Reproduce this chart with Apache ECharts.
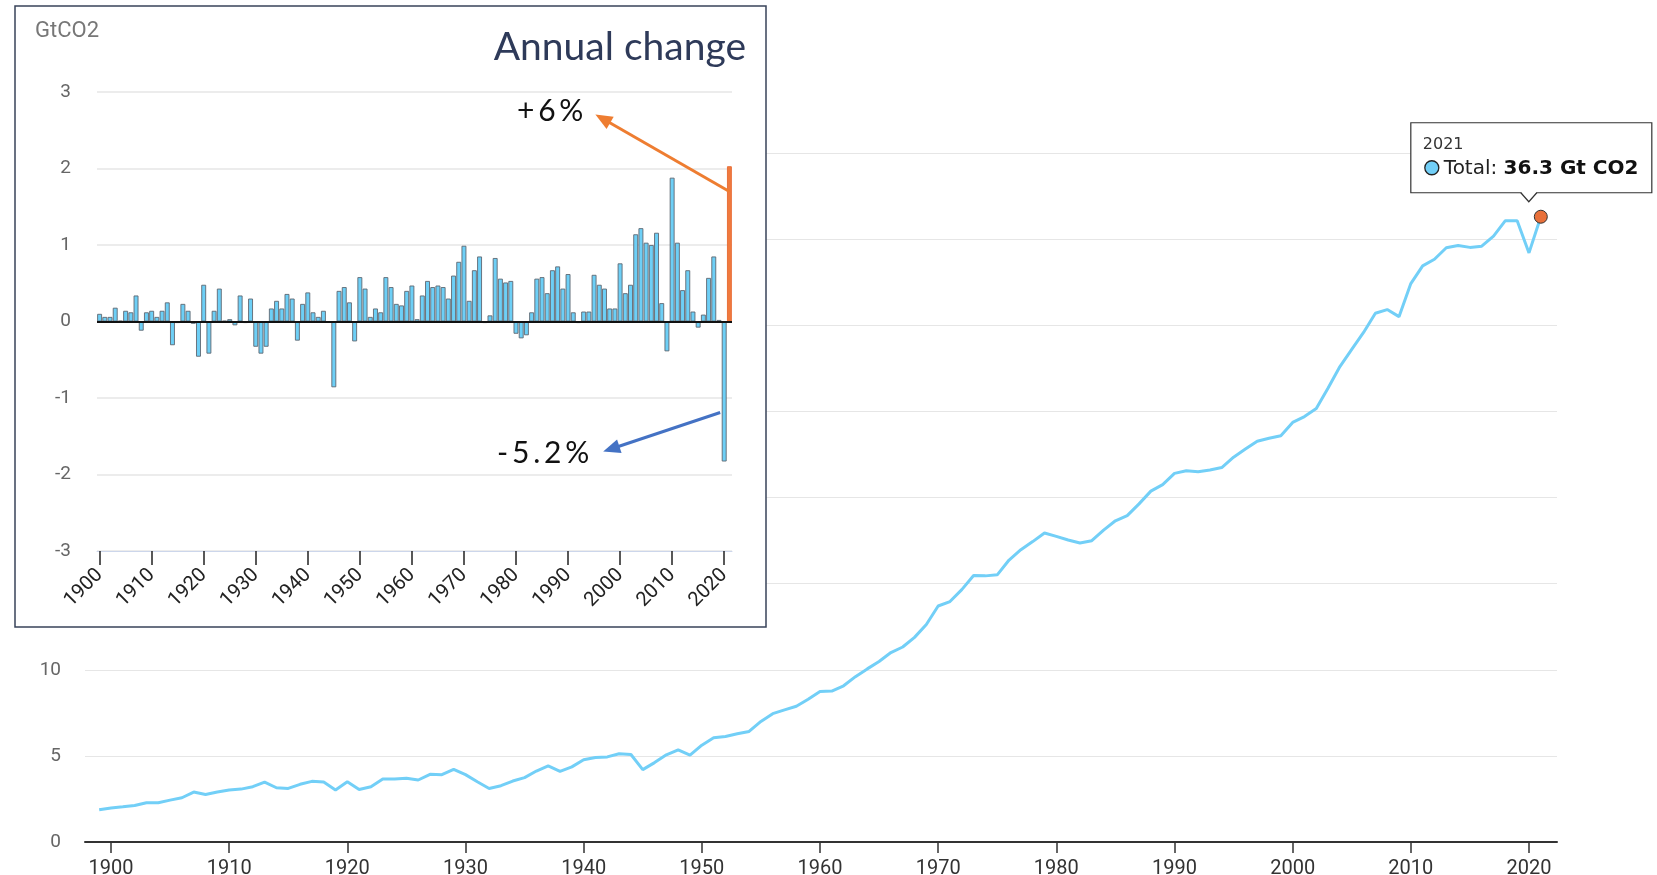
<!DOCTYPE html>
<html><head><meta charset="utf-8">
<script src="https://cdn.jsdelivr.net/npm/echarts@6/dist/echarts.min.js"></script>
<style>html,body{margin:0;padding:0;background:#fff}#c{width:1657px;height:875px}</style>
</head><body><div id="c"></div>
<script>
// ---- data ----
const totalYears = [];
for (let y = 1899; y <= 2021; y++) totalYears.push(y);
const totalEmissions = [
  1.87,1.98,2.04,2.12,2.28,2.28,2.43,2.57,2.9,2.76,2.9,
  3.02,3.07,3.21,3.48,3.15,3.11,3.35,3.52,3.48,3.02,
  3.5,3.05,3.21,3.66,3.66,3.7,3.6,3.93,3.91,4.22,
  3.91,3.5,3.11,3.27,3.54,3.74,4.12,4.42,4.1,4.36,
  4.77,4.9,4.94,5.12,5.08,4.2,4.61,5.06,5.35,5.04,
  5.62,6.05,6.13,6.28,6.42,7.0,7.45,7.67,7.88,8.29,
  8.74,8.76,9.07,9.6,10.05,10.48,11.0,11.32,11.88,12.63,
  13.7,13.96,14.65,15.47,15.45,15.51,16.37,16.97,17.44,17.94,
  17.74,17.53,17.36,17.49,18.11,18.65,18.95,19.63,20.37,20.75,
  21.4,21.55,21.5,21.6,21.74,22.34,22.81,23.27,23.44,23.59,
  24.36,24.7,25.16,26.36,27.6,28.6,29.58,30.7,30.91,30.5,
  32.42,33.45,33.83,34.5,34.63,34.52,34.59,35.17,36.07,36.07,
  34.2,36.3
];
const changeYears = [];
for (let y = 1900; y <= 2021; y++) changeYears.push(String(y));
const annualChange = [
  0.10,0.06,0.06,0.18,0.01,0.14,0.12,0.34,-0.12,0.12,
  0.14,0.06,0.14,0.25,-0.31,-0.02,0.23,0.14,-0.03,-0.46,
  0.48,-0.42,0.14,0.43,0.01,0.03,-0.05,0.34,-0.02,0.30,
  -0.33,-0.42,-0.33,0.17,0.27,0.17,0.36,0.30,-0.25,0.23,
  0.38,0.12,0.06,0.14,-0.01,-0.86,0.40,0.45,0.25,-0.26,
  0.58,0.43,0.06,0.17,0.12,0.58,0.45,0.23,0.21,0.40,
  0.47,0.03,0.34,0.53,0.45,0.47,0.45,0.30,0.60,0.78,
  0.99,0.27,0.67,0.85,-0.02,0.08,0.83,0.56,0.51,0.53,
  -0.16,-0.22,-0.18,0.12,0.56,0.58,0.37,0.67,0.72,0.43,
  0.62,0.12,-0.02,0.13,0.13,0.61,0.48,0.43,0.17,0.17,
  0.76,0.37,0.48,1.14,1.22,1.03,1.00,1.16,0.24,-0.39,
  1.88,1.03,0.41,0.67,0.13,-0.08,0.09,0.57,0.85,0.02,
  -1.83,2.03
];
const mainTickYears = [1900,1910,1920,1930,1940,1950,1960,1970,1980,1990,2000,2010,2020];
const highlightYear = '2021';
const upLabel = '+\u20096\u2009%';
const downLabel = '-\u20095\u2009.\u20092\u2009%';
const unitLabel = 'GtCO2';
const insetTitle = 'Annual change';

// ---- chart ----
const chart = echarts.init(document.getElementById('c'), null, {renderer: 'canvas'});
const LINE = '#72cff7';

const option = {
  animation: false,
  backgroundColor: '#fff',
  grid: [
    {left: 85, top: 153, width: 1472, height: 689, containLabel: false, outerBoundsMode: 'none'},
    {left: 97, top: 92, width: 635, height: 459, z: 3, containLabel: false, outerBoundsMode: 'none'}
  ],
  xAxis: [
    {
      type: 'value', gridIndex: 0, min: 1897.8, max: 2022.37,
      splitLine: {show: false},
      axisLine: {show: true, onZero: false, lineStyle: {color: '#333', width: 2}},
      axisTick: {show: true, length: 11, lineStyle: {color: '#333', width: 1.5}, customValues: mainTickYears},
      axisLabel: {show: true, color: '#333', fontSize: 20, fontFamily: 'Roboto', margin: 17, customValues: mainTickYears,
                  formatter: v => String(v)}
    },
    {
      type: 'category', gridIndex: 1, data: changeYears, boundaryGap: true, z: 3,
      axisLine: {show: true, onZero: false, lineStyle: {color: '#ccd6eb', width: 1}},
      axisTick: {show: true, alignWithLabel: true, length: 14, interval: (i, v) => Number(v) % 10 === 0,
                 lineStyle: {color: '#222', width: 1.5}},
      axisLabel: {show: true, interval: (i, v) => Number(v) % 10 === 0, rotate: 45, color: '#222',
                  fontSize: 20, fontFamily: 'Roboto', margin: 21},
      splitLine: {show: false}
    }
  ],
  yAxis: [
    {
      type: 'value', gridIndex: 0, min: 0, max: 40, interval: 5,
      axisLine: {show: false}, axisTick: {show: false},
      axisLabel: {color: '#666', fontSize: 19, fontFamily: 'Roboto', margin: 24},
      splitLine: {lineStyle: {color: '#e6e6e6', width: 1}}
    },
    {
      type: 'value', gridIndex: 1, min: -3, max: 3, interval: 1, z: 3,
      axisLine: {show: false}, axisTick: {show: false},
      axisLabel: {color: '#666', fontSize: 19, fontFamily: 'Roboto', margin: 26},
      splitLine: {lineStyle: {color: '#e6e6e6', width: 1.5}}
    }
  ],
  series: [
    {
      type: 'line', xAxisIndex: 0, yAxisIndex: 0, z: 2,
      data: totalYears.map((y, i) => [y, totalEmissions[i]]),
      showSymbol: false, symbol: 'none',
      lineStyle: {color: LINE, width: 3},
      markPoint: {
        symbol: 'circle', symbolSize: 13, silent: true,
        itemStyle: {color: '#e8703a', borderColor: '#333', borderWidth: 1},
        label: {show: false},
        data: [{coord: [totalYears[totalYears.length - 1], totalEmissions[totalEmissions.length - 1]]}]
      }
    },
    {
      type: 'bar', xAxisIndex: 1, yAxisIndex: 1, z: 4,
      barCategoryGap: '6%',
      data: changeYears.map((y, i) => y === highlightYear
        ? {value: annualChange[i], itemStyle: {color: '#f07a3e', borderColor: '#e8703a', borderWidth: 1}}
        : annualChange[i]),
      itemStyle: {color: '#6dcff6', borderColor: '#5f6872', borderWidth: 0.9},
      markLine: {
        silent: true, symbol: 'none', label: {show: false},
        lineStyle: {color: '#111', width: 2, type: 'solid'},
        data: [{yAxis: 0}]
      }
    }
  ]
};
chart.setOption(option);

// ---- annotations anchored on data ----
function arrow(id, x1, y1, x2, y2, color, w, head) {
  const ang = Math.atan2(y2 - y1, x2 - x1);
  const L = head, W = head * 0.42;
  const bx = x2 - L * Math.cos(ang), by = y2 - L * Math.sin(ang);
  const px = -Math.sin(ang), py = Math.cos(ang);
  return [
    {type: 'line', id: id + 'l', z: 12, shape: {x1: x1, y1: y1, x2: bx + (x2 - bx) * 0.2, y2: by + (y2 - by) * 0.2},
     style: {stroke: color, lineWidth: w}},
    {type: 'polygon', id: id + 'h', z: 12, shape: {points: [[x2, y2], [bx + px * W, by + py * W], [bx - px * W, by - py * W]]},
     style: {fill: color}}
  ];
}

const lastY = totalYears[totalYears.length - 1];
const lastV = totalEmissions[totalEmissions.length - 1];
const pt = chart.convertToPixel({gridIndex: 0}, [lastY, lastV]);
const upStart = chart.convertToPixel({gridIndex: 1}, ['2021', 1.7]);
const dnStart = chart.convertToPixel({gridIndex: 1}, ['2020', -1.19]);
dnStart[0] -= 4;
const upEnd = [upStart[0] - 134, upStart[1] - 77];
const dnEnd = [dnStart[0] - 117, dnStart[1] + 39];

const bx = pt[0] - 130, by = pt[1] - 94, bw = 241, bh = 70;
const caretX = pt[0] - 12, caretTip = pt[1] - 15;

const graphics = [
  {type: 'rect', id: 'frame', z: 1, shape: {x: 15, y: 6, width: 751, height: 621},
   style: {fill: '#fff', stroke: '#38435a', lineWidth: 1.5}},
  {type: 'text', id: 'unit', z: 10, x: 35, y: 31,
   style: {text: unitLabel, fill: '#777', fontSize: 22, fontFamily: 'Roboto', verticalAlign: 'middle'}},
  {type: 'text', id: 'title', z: 10, x: 746, y: 47,
   style: {text: insetTitle, fill: '#2e3a59', fontSize: 39, fontFamily: 'Lato', align: 'right', verticalAlign: 'middle'}},
  ...arrow('up', upStart[0], upStart[1], upEnd[0], upEnd[1], '#ee7d31', 3, 17),
  ...arrow('dn', dnStart[0], dnStart[1], dnEnd[0], dnEnd[1], '#4472c4', 3, 17),
  {type: 'text', id: 'uplab', z: 12, x: upEnd[0] - 12, y: upEnd[1] - 3,
   style: {text: upLabel, fill: '#111', fontSize: 30, fontFamily: 'Lato', align: 'right', verticalAlign: 'middle'}},
  {type: 'text', id: 'dnlab', z: 12, x: dnEnd[0] - 14, y: dnEnd[1] + 2,
   style: {text: downLabel, fill: '#111', fontSize: 30, fontFamily: 'Lato', align: 'right', verticalAlign: 'middle'}},
  // tooltip
  {type: 'rect', id: 'tipbox', z: 20, shape: {x: bx, y: by, width: bw, height: bh},
   style: {fill: '#fff', stroke: '#333', lineWidth: 1.2}},
  {type: 'polygon', id: 'tipcaretfill', z: 21, shape: {points: [[caretX - 8, by + bh - 1], [caretX + 8, by + bh - 1], [caretX, caretTip]]},
   style: {fill: '#fff'}},
  {type: 'polyline', id: 'tipcaret', z: 22, shape: {points: [[caretX - 8, by + bh], [caretX, caretTip], [caretX + 8, by + bh]]},
   style: {stroke: '#333', lineWidth: 1.2, fill: null}},
  {type: 'text', id: 'tipyear', z: 23, x: bx + 12, y: by + 22,
   style: {text: String(lastY), fill: '#333', fontSize: 16, fontFamily: 'DejaVu Sans', verticalAlign: 'middle'}},
  {type: 'circle', id: 'tipdot', z: 23, shape: {cx: bx + 21, cy: by + 45, r: 7},
   style: {fill: LINE, stroke: '#222', lineWidth: 1.3}},
  {type: 'text', id: 'tiptext', z: 23, x: bx + 33, y: by + 46,
   style: {
     text: '{n|Total: }{b|' + lastV.toFixed(1) + ' Gt CO2}', verticalAlign: 'middle',
     rich: {
       n: {fontSize: 20, fontFamily: 'DejaVu Sans', fill: '#222'},
       b: {fontSize: 20, fontFamily: 'DejaVu Sans', fontWeight: 'bold', fill: '#111'}
     }
   }}
];
chart.setOption({graphic: graphics});
</script>
</body></html>
